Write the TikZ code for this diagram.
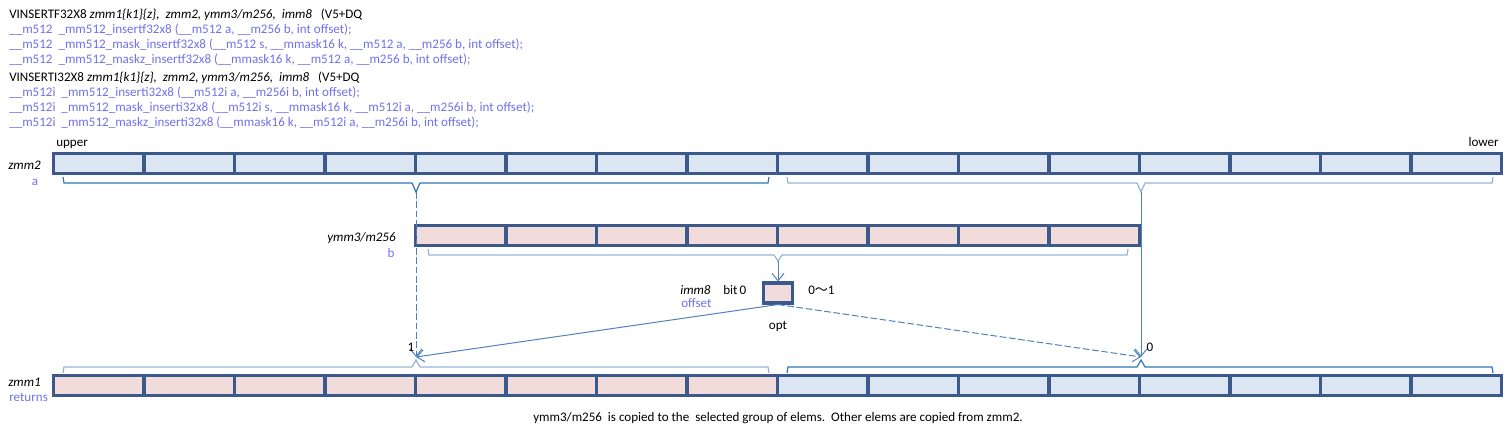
\documentclass[tikz,border=0pt]{standalone}
\usepackage{fontspec}
\setmainfont{Carlito}
\newfontfamily\cjkfont{Noto Sans CJK JP}
\usetikzlibrary{arrows.meta}
\definecolor{cellborder}{RGB}{59,89,138}
\definecolor{bluefill}{RGB}{220,230,242}
\definecolor{pinkfill}{RGB}{242,220,219}
\definecolor{bracelight}{RGB}{149,179,215}
\definecolor{bracedark}{RGB}{46,117,182}
\definecolor{connblue}{RGB}{79,129,189}
\definecolor{textblue}{RGB}{112,112,240}
\tikzset{
  cell/.style={draw=cellborder, line width=2.3pt, inner sep=0pt, minimum width=67.875pt, minimum height=15pt},
  bluecell/.style={cell, fill=bluefill},
  pinkcell/.style={cell, fill=pinkfill},
  txt/.style={inner sep=0pt, font=\fontsize{9.8}{11}\selectfont},
  btxt/.style={txt, text=textblue},
  lbrace/.style={draw=bracelight, line width=0.9pt},
  dbrace/.style={draw=bracedark, line width=0.9pt},
  conn/.style={draw=connblue, line width=0.75pt, -{Straight Barb[length=5.5pt,width=9pt]}},
  dashconn/.style={conn, dash pattern=on 5pt off 2pt},
}
\begin{document}
\begin{tikzpicture}[x=0.75pt,y=-0.75pt]
\useasboundingbox (0,0) rectangle (1509,432);

% header text
\node[txt, anchor=base west] (h1) at (9,18) {VINSERTF32X8 \textit{zmm1\{k1\}\{z\},\ \ zmm2, ymm3/m256,\ \ imm8}\ \ \ (V5+DQ};
\node[btxt, anchor=base west] (h2) at (9,33) {\_\_m512\ \ \_mm512\_insertf32x8 (\_\_m512 a, \_\_m256 b, int offset);};
\node[btxt, anchor=base west] (h3) at (9,48) {\_\_m512\ \ \_mm512\_mask\_insertf32x8 (\_\_m512 s, \_\_mmask16 k, \_\_m512 a, \_\_m256 b, int offset);};
\node[btxt, anchor=base west] (h4) at (9,63) {\_\_m512\ \ \_mm512\_maskz\_insertf32x8 (\_\_mmask16 k, \_\_m512 a, \_\_m256 b, int offset);};
\node[txt, anchor=base west] (h5) at (9,81) {VINSERTI32X8 \textit{zmm1\{k1\}\{z\},\ \ zmm2, ymm3/m256,\ \ imm8}\ \ \ (V5+DQ};
\node[btxt, anchor=base west] (h6) at (9,96) {\_\_m512i\ \ \_mm512\_inserti32x8 (\_\_m512i a, \_\_m256i b, int offset);};
\node[btxt, anchor=base west] (h7) at (9,111) {\_\_m512i\ \ \_mm512\_mask\_inserti32x8 (\_\_m512i s, \_\_mmask16 k, \_\_m512i a, \_\_m256i b, int offset);};
\node[btxt, anchor=base west] (h8) at (9,126) {\_\_m512i\ \ \_mm512\_maskz\_inserti32x8 (\_\_mmask16 k, \_\_m512i a, \_\_m256i b, int offset);};

% zmm2 row
\foreach \i in {1,...,16} {
  \node[bluecell] (za\i) at ({53.5+(\i-0.5)*90.5},163.5) {};
}
% ymm3 row
\foreach \i in {1,...,8} {
  \node[pinkcell] (yb\i) at ({415.5+(\i-0.5)*90.5},235.5) {};
}
% zmm1 row
\foreach \i in {1,...,8} {
  \node[pinkcell] (zr\i) at ({53.5+(\i-0.5)*90.5},385.5) {};
}
\foreach \i in {9,...,16} {
  \node[bluecell] (zr\i) at ({53.5+(\i-0.5)*90.5},385.5) {};
}

% labels
\node[txt, anchor=base west] (upper) at (56,146) {upper};
\node[txt, anchor=base east] (lower) at (1499,146) {lower};
\node[txt, anchor=base east] (lzmm2) at (41,169) {\textit{zmm2}};
\node[btxt, anchor=base] (la) at (35,185) {a};
\node[txt, anchor=base east] (lymm) at (396,241) {\textit{ymm3/m256}};
\node[btxt, anchor=base] (lb) at (391,257) {b};
\node[txt, anchor=base west] (limm) at (680,294) {\textit{imm8}};
\node[btxt, anchor=base west] (loff) at (681,307) {offset};
\node[txt, anchor=base west] (lbit) at (723,294) {bit\,0};
\node[txt, anchor=base west] (lrange) at (808,294) {0{\cjkfont 〜}1};
\node[txt, anchor=base] (lopt) at (778,329) {opt};
\node[txt, anchor=base east] (lzmm1) at (41,386) {\textit{zmm1}};
\node[btxt, anchor=base west] (lret) at (9,401) {returns};
\node[txt, anchor=base] (caption) at (778,421) {ymm3/m256\ \ is copied to the\ \ selected group of elems.\ \ Other elems are copied from zmm2.};

% imm8 box
\node[draw=cellborder, line width=2.3pt, fill=pinkfill, inner sep=0pt, minimum width=22pt, minimum height=15pt] (imm) at (778,293) {};

% braces
\coordinate (z2tipL) at (416,192);
\coordinate (z2tipR) at (1141,192);
\coordinate (ytip) at (778,261);
\coordinate (z1tipL) at (416,357);
\coordinate (z1tipR) at (1141,357);

\draw[dbrace] (63,177) -- (64,183) -- (412,183) -- (z2tipL) -- (420,183) -- (768,183) -- (769,177);
\draw[lbrace] (787,177) -- (788,183) -- (1137,183) -- (z2tipR) -- (1145,183) -- (1492,183) -- (1493,177);
\draw[lbrace] (428,249) -- (429,255) -- (774,255) -- (ytip) -- (782,255) -- (1127,255) -- (1128,249);
\draw[lbrace] (63,373) -- (64,367) -- (412,367) -- (416,360) -- (420,367) -- (768,367) -- (769,373);
\draw[dbrace] (787,373) -- (788,367) -- (1137,367) -- (1141,360) -- (1145,367) -- (1492,367) -- (1493,373);

% connectors
\draw[conn] (ytip) -- (imm.north);
\draw[dashconn] (z2tipL) -- (z1tipL);
\draw[conn] (z2tipR) -- (z1tipR);
\draw[conn] (imm.south) -- (z1tipL);
\draw[dashconn] (imm.south) -- (z1tipR);
\node[txt, anchor=base] (lone) at (411,351) {1};
\node[txt, anchor=base] (lzero) at (1150,351) {0};
\end{tikzpicture}
\end{document}
